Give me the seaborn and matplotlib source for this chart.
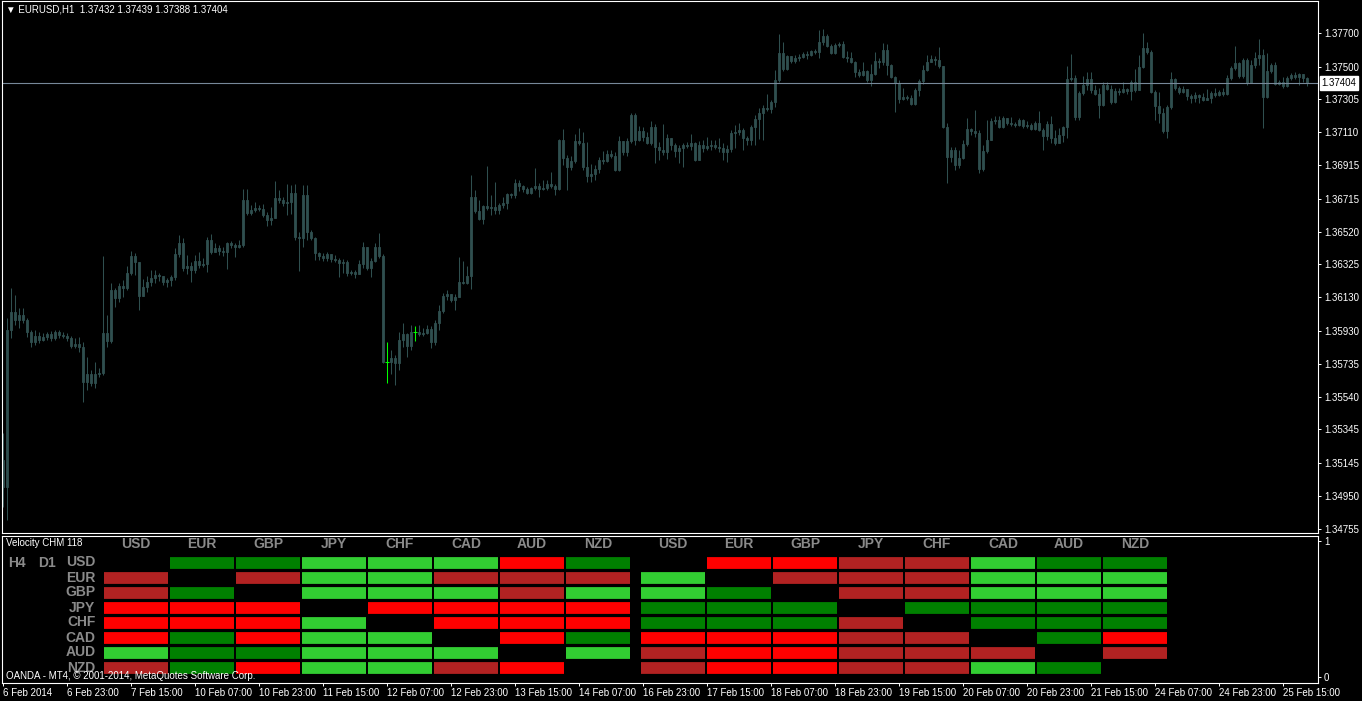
import numpy as np
import matplotlib
matplotlib.use("Agg")
import matplotlib.pyplot as plt
import seaborn as sns
from matplotlib.colors import ListedColormap

W, H = 1362, 701

# EURUSD H1 candles, prices in pips above BASE
BASE = 1.35000
first_open = 16.4
close_pips = [
    0.3, 93.6, 104.3, 99.5, 102.5, 99.5, 92.4, 86.4, 90.0, 87.6,
    89.4, 91.2, 88.8, 92.4, 90.6, 90.0, 88.8, 83.9, 85.2, 83.5,
    62.7, 67.4, 62.1, 67.4, 68.0, 91.8, 87.0, 117.3, 112.6, 119.7,
    118.5, 127.4, 137.5, 134.0, 113.8, 119.1, 122.1, 124.5, 126.2, 125.6,
    122.1, 123.3, 125.0, 138.7, 145.2, 130.4, 131.6, 129.2, 134.6, 132.2,
    132.8, 147.0, 139.9, 142.3, 140.5, 139.9, 145.2, 144.0, 142.9, 144.0,
    170.8, 163.1, 164.9, 166.1, 165.5, 161.9, 158.9, 160.1, 172.0, 170.8,
    169.0, 169.6, 174.9, 148.8, 148.2, 173.8, 151.8, 148.2, 139.3, 137.5,
    136.4, 138.7, 135.8, 135.2, 133.4, 134.0, 127.4, 128.0, 126.8, 132.8,
    142.9, 130.4, 134.6, 142.9, 137.5, 74.6, 74.6, 76.9, 74.0, 87.6,
    91.2, 83.9, 92.4, 92.4, 91.2, 91.8, 94.2, 86.4, 97.7, 104.9,
    113.8, 114.9, 111.4, 113.2, 122.1, 121.5, 125.6, 172.6, 164.3, 159.5,
    167.3, 166.1, 166.7, 164.9, 167.9, 169.0, 174.4, 173.8, 180.9, 179.1,
    177.3, 174.9, 177.9, 179.1, 177.3, 177.9, 180.3, 179.1, 177.3, 206.4,
    195.8, 190.4, 194.0, 206.0, 204.7, 190.4, 185.1, 186.3, 189.2, 194.6,
    194.0, 198.1, 196.9, 188.6, 205.8, 199.3, 205.8, 221.5, 206.4, 211.8,
    208.2, 204.7, 214.2, 202.3, 200.5, 199.3, 207.6, 203.5, 199.9, 201.7,
    203.5, 202.9, 204.7, 194.6, 203.5, 201.7, 202.9, 203.5, 202.3, 201.7,
    199.3, 201.1, 210.6, 211.2, 212.4, 207.6, 206.4, 214.2, 218.9, 222.5,
    225.5, 224.9, 229.0, 242.1, 258.1, 248.6, 256.3, 253.4, 255.1, 255.7,
    257.5, 256.9, 259.3, 258.7, 264.7, 268.2, 262.3, 258.1, 262.9, 263.5,
    255.7, 255.1, 252.8, 246.8, 245.1, 247.4, 242.1, 245.7, 253.4, 252.8,
    259.9, 251.0, 243.9, 240.3, 230.8, 232.0, 231.4, 227.8, 236.1, 241.5,
    248.0, 252.8, 254.5, 253.9, 250.4, 214.2, 196.3, 200.5, 191.6, 195.8,
    204.1, 213.0, 211.8, 210.6, 189.2, 199.9, 206.4, 217.7, 218.3, 214.2,
    219.5, 216.5, 215.9, 215.4, 218.3, 214.8, 215.4, 213.0, 216.5, 212.4,
    208.8, 215.9, 207.6, 204.7, 209.4, 214.2, 242.7, 243.3, 220.1, 234.4,
    239.1, 242.7, 236.1, 233.8, 227.2, 239.1, 236.7, 229.0, 235.5, 234.9,
    236.7, 235.5, 240.9, 236.1, 249.8, 261.1, 258.7, 234.9, 226.6, 222.5,
    211.8, 226.0, 242.7, 237.3, 234.9, 236.7, 232.6, 231.4, 233.2, 232.0,
    230.2, 231.4, 234.4, 233.2, 234.9, 233.8, 243.3, 249.2, 252.2, 244.5,
    253.9, 240.3, 251.0, 255.1, 256.9, 232.0, 247.4, 251.0, 239.7, 240.9,
    238.5, 243.3, 245.1, 243.9, 245.7, 243.2, 240.4,
]
high_pips = [
    32.4, 100.7, 118.5, 114.4, 106.7, 106.7, 100.7, 93.6, 93.6, 92.4,
    91.8, 92.4, 93.0, 93.6, 93.6, 92.4, 91.8, 90.0, 88.8, 89.4,
    86.4, 77.5, 69.8, 74.6, 71.0, 137.5, 102.5, 121.5, 118.5, 121.5,
    123.3, 131.6, 140.5, 139.3, 126.2, 123.9, 125.6, 129.2, 129.2, 127.4,
    125.6, 124.5, 126.2, 142.3, 150.0, 148.2, 138.1, 134.0, 138.1, 139.9,
    136.4, 148.8, 150.6, 145.2, 144.0, 142.9, 145.8, 146.4, 145.2, 147.0,
    177.3, 177.3, 167.9, 169.6, 167.9, 168.4, 163.7, 166.7, 182.1, 176.7,
    172.6, 180.3, 179.7, 180.3, 151.8, 179.7, 179.7, 153.0, 148.8, 139.9,
    139.3, 139.9, 137.5, 138.1, 136.4, 135.8, 135.2, 129.2, 129.2, 135.2,
    145.8, 142.9, 136.4, 145.2, 151.4, 138.7, 86.4, 81.7, 78.7, 92.4,
    97.7, 91.8, 96.5, 95.9, 96.5, 94.8, 96.5, 95.9, 99.5, 108.4,
    115.6, 117.3, 114.9, 114.9, 136.9, 134.6, 131.8, 185.7, 176.7, 170.8,
    167.9, 191.0, 173.8, 181.5, 169.0, 172.6, 175.0, 175.0, 183.3, 182.7,
    179.7, 178.5, 178.5, 189.8, 180.9, 182.7, 182.7, 187.4, 180.3, 207.0,
    213.0, 197.5, 196.9, 210.0, 213.6, 211.2, 205.2, 192.2, 191.6, 196.3,
    199.9, 200.5, 200.5, 199.3, 208.8, 202.9, 207.6, 222.7, 222.7, 214.8,
    214.2, 211.2, 217.7, 216.0, 205.2, 216.0, 210.0, 207.6, 204.7, 203.5,
    204.7, 205.2, 210.0, 205.2, 205.8, 206.4, 208.2, 206.4, 206.4, 207.6,
    204.7, 203.5, 212.4, 215.4, 216.5, 213.6, 208.8, 215.4, 221.3, 225.5,
    227.3, 233.8, 230.2, 248.0, 269.4, 264.7, 256.9, 256.3, 256.9, 257.5,
    258.7, 259.3, 259.9, 260.5, 271.8, 272.4, 269.4, 263.5, 264.1, 264.7,
    265.2, 259.3, 258.7, 253.4, 248.6, 252.8, 248.0, 251.6, 258.7, 255.1,
    264.1, 263.5, 251.6, 244.5, 242.1, 237.3, 233.2, 233.2, 237.3, 242.7,
    251.0, 256.9, 256.9, 256.3, 261.7, 250.4, 216.5, 202.3, 202.3, 200.5,
    206.4, 219.5, 213.6, 224.3, 212.4, 203.5, 218.3, 219.5, 220.7, 220.7,
    220.7, 219.5, 220.1, 217.1, 219.5, 218.9, 217.7, 216.5, 217.7, 223.7,
    213.6, 217.7, 220.7, 212.4, 213.6, 214.8, 250.4, 257.5, 245.1, 235.5,
    244.5, 246.8, 246.8, 239.1, 237.3, 240.9, 240.9, 239.1, 237.3, 237.3,
    240.9, 237.3, 242.1, 248.6, 256.9, 270.0, 264.7, 259.9, 236.1, 234.9,
    225.5, 227.3, 246.8, 243.3, 238.5, 238.5, 236.1, 233.8, 234.9, 233.8,
    234.4, 236.7, 235.5, 237.3, 236.1, 237.3, 245.1, 250.4, 262.3, 252.8,
    255.1, 255.1, 254.0, 258.7, 266.4, 260.5, 258.1, 252.2, 252.8, 242.1,
    243.9, 244.5, 246.2, 246.8, 246.2, 244.5, 243.9,
]
low_pips = [
    -11.6, -19.3, 88.8, 96.5, 94.8, 97.7, 89.4, 83.5, 84.7, 85.8,
    87.0, 87.6, 87.0, 87.6, 88.8, 88.8, 87.0, 82.9, 82.9, 80.5,
    50.8, 57.9, 60.3, 59.1, 65.7, 66.8, 83.5, 85.8, 107.2, 110.2,
    113.2, 117.3, 126.2, 126.2, 105.5, 116.1, 116.1, 119.7, 121.5, 122.7,
    120.3, 119.1, 119.7, 123.3, 136.9, 128.6, 126.8, 122.1, 127.4, 130.4,
    131.0, 128.0, 138.7, 139.9, 138.1, 137.5, 129.8, 142.3, 136.9, 142.3,
    142.9, 161.9, 161.9, 163.7, 164.3, 160.7, 155.4, 155.9, 160.7, 169.0,
    167.3, 161.9, 162.5, 147.0, 128.6, 142.9, 147.0, 147.0, 135.2, 135.2,
    134.6, 134.6, 134.0, 134.0, 125.0, 127.4, 125.6, 126.2, 124.5, 126.8,
    130.4, 129.2, 125.0, 134.0, 136.4, 74.0, 62.1, 67.6, 60.9, 69.8,
    83.5, 77.5, 81.7, 87.0, 90.0, 90.0, 91.2, 82.9, 84.7, 93.6,
    103.7, 111.4, 110.2, 105.5, 113.2, 120.9, 120.9, 117.9, 163.1, 158.9,
    156.5, 164.9, 161.9, 162.5, 162.5, 166.1, 165.5, 172.0, 172.0, 176.1,
    175.6, 174.4, 174.4, 176.7, 172.6, 176.7, 176.7, 177.9, 173.8, 176.7,
    191.6, 176.7, 188.6, 192.8, 203.5, 188.6, 181.5, 181.5, 182.7, 186.8,
    192.2, 193.4, 195.8, 188.0, 188.0, 197.5, 196.9, 204.7, 203.5, 206.0,
    206.0, 204.1, 203.5, 192.8, 194.6, 197.5, 195.2, 200.5, 196.3, 192.8,
    190.4, 201.7, 200.5, 194.0, 194.6, 199.3, 200.5, 200.5, 201.1, 199.3,
    194.6, 193.4, 199.3, 201.7, 209.4, 200.5, 203.5, 203.5, 203.5, 207.0,
    206.4, 223.7, 222.5, 226.0, 240.9, 247.4, 248.0, 252.2, 252.2, 253.4,
    255.1, 254.5, 256.3, 257.5, 255.1, 262.9, 261.7, 257.5, 257.5, 261.7,
    255.1, 252.8, 252.2, 243.9, 243.9, 244.5, 240.9, 238.5, 245.1, 249.2,
    251.0, 245.1, 243.3, 223.1, 228.4, 230.2, 230.2, 227.2, 227.2, 232.6,
    239.7, 247.4, 252.8, 251.0, 249.2, 213.6, 180.9, 193.4, 188.6, 189.8,
    195.2, 202.9, 209.4, 208.2, 186.8, 188.0, 198.7, 206.4, 216.0, 213.6,
    213.6, 215.4, 214.8, 214.2, 214.8, 213.6, 213.6, 212.4, 212.4, 211.8,
    200.5, 206.4, 204.7, 203.5, 204.7, 205.2, 207.6, 241.5, 218.3, 218.3,
    233.2, 236.1, 234.4, 233.2, 219.5, 226.6, 236.1, 227.8, 228.4, 233.2,
    234.4, 233.8, 230.2, 234.9, 236.1, 249.2, 257.5, 234.4, 218.3, 216.5,
    210.6, 207.6, 224.9, 236.1, 233.8, 234.4, 230.2, 228.4, 229.0, 228.4,
    229.6, 230.2, 228.4, 232.0, 232.6, 232.6, 233.2, 242.1, 248.0, 243.3,
    243.3, 239.1, 240.3, 249.2, 251.0, 213.6, 231.4, 246.2, 239.1, 239.1,
    237.3, 237.9, 242.1, 242.7, 239.1, 240.9, 238.8,
]

price_ticks = [1.37700, 1.37500, 1.37305, 1.37110, 1.36915, 1.36715, 1.36520,
               1.36325, 1.36130, 1.35930, 1.35735, 1.35540, 1.35345, 1.35145,
               1.34950, 1.34755]
date_labels = ["6 Feb 2014", "6 Feb 23:00", "7 Feb 15:00", "10 Feb 07:00",
               "10 Feb 23:00", "11 Feb 15:00", "12 Feb 07:00", "12 Feb 23:00",
               "13 Feb 15:00", "14 Feb 07:00", "16 Feb 23:00", "17 Feb 15:00",
               "18 Feb 07:00", "18 Feb 23:00", "19 Feb 15:00", "20 Feb 07:00",
               "20 Feb 23:00", "21 Feb 15:00", "24 Feb 07:00", "24 Feb 23:00",
               "25 Feb 15:00"]
HOURS_PER_LABEL = 16

# Velocity CHM matrices: 0 none, 1 strong down, 2 weak down, 3 weak up, 4 strong up
currencies = ["USD", "EUR", "GBP", "JPY", "CHF", "CAD", "AUD", "NZD"]
h4_matrix = [
    [0, 4, 4, 3, 3, 3, 1, 4],
    [2, 0, 2, 3, 3, 2, 2, 2],
    [2, 4, 0, 3, 3, 3, 2, 3],
    [1, 1, 1, 0, 1, 1, 1, 1],
    [1, 1, 1, 3, 0, 1, 1, 1],
    [1, 4, 1, 3, 3, 0, 1, 4],
    [3, 4, 4, 3, 3, 3, 0, 3],
    [2, 4, 1, 3, 3, 2, 1, 0],
]
d1_matrix = [
    [0, 1, 1, 2, 2, 3, 4, 4],
    [3, 0, 2, 2, 2, 3, 3, 3],
    [3, 4, 0, 2, 2, 3, 3, 3],
    [4, 4, 4, 0, 4, 4, 4, 4],
    [4, 4, 4, 2, 0, 4, 4, 4],
    [1, 1, 1, 2, 2, 0, 4, 1],
    [2, 1, 1, 2, 2, 2, 0, 2],
    [2, 1, 1, 2, 2, 3, 4, 0],
]
cell_colors = ["#ff0000", "#b22222", "#32cd32", "#008000"]

CANDLE = "#2f4f4f"
DOJI = "#00ff00"
GREY = "#8a8a8a"

sns.set_theme(style="dark", rc={
    "figure.facecolor": "black", "axes.facecolor": "black",
    "axes.edgecolor": "white", "text.color": "white",
    "xtick.color": "white", "ytick.color": "white", "axes.grid": False,
})
plt.rcParams["font.family"] = ["Liberation Sans", "DejaVu Sans"]

close = BASE + np.array(close_pips) / 10000
opens = np.concatenate([[BASE + first_open / 10000], close[:-1]])
high = np.maximum(BASE + np.array(high_pips) / 10000, np.maximum(opens, close))
low = np.minimum(BASE + np.array(low_pips) / 10000, np.minimum(opens, close))
n = len(close)
idx = np.arange(n)
doji = np.isclose(opens, close, atol=1e-9, rtol=0)
bid = close[-1]

fig = plt.figure(figsize=(W / 100, H / 100), dpi=100, facecolor="black")


def px_axes(x0, y0, x1, y1):
    return fig.add_axes([x0 / W, 1 - y1 / H, (x1 - x0) / W, (y1 - y0) / H])


def ftxt(x, y, s, **kw):
    kw.setdefault("fontsize", 7)
    kw.setdefault("color", "white")
    fig.text(x / W, 1 - y / H, s, ha="left", va="center", **kw)


XLIM = (-0.25, 328.75)

# price panel
ax = px_axes(2, 1, 1318, 533)
ax.set_facecolor("black")
norm = ~doji
ax.vlines(idx[norm], low[norm], high[norm], color=CANDLE, lw=0.75)
ax.bar(idx[norm], np.abs(close - opens)[norm], bottom=np.minimum(opens, close)[norm],
       width=0.6, color=CANDLE, edgecolor=CANDLE, linewidth=0.6)
ax.vlines(idx[doji], low[doji], high[doji], color=DOJI, lw=0.75)
ax.hlines(close[doji], idx[doji] - 0.45, idx[doji] + 0.45, color=DOJI, lw=0.75)
ax.axhline(bid, color="#778899", lw=0.8)
ax.set_xlim(*XLIM)
ax.set_ylim(1.34730, 1.37890)
ax.yaxis.tick_right()
ax.set_yticks(price_ticks)
ax.set_yticklabels([f"{p:.5f}" for p in price_ticks])
ax.tick_params(axis="y", right=True, left=False, length=2.2, width=0.7,
               colors="white", labelsize=7, pad=2)
ax.tick_params(axis="x", bottom=False, labelbottom=False)
for s in ax.spines.values():
    s.set_color("white")
    s.set_linewidth(0.8)
ax.annotate(f"{bid:.5f}", xy=(1, bid), xycoords=("axes fraction", "data"),
            xytext=(2.5, 0), textcoords="offset points", ha="left", va="center",
            fontsize=7, color="black", annotation_clip=False,
            bbox=dict(boxstyle="square,pad=0.2", fc="white", ec="white"))

ftxt(6, 10, f"\u25bc EURUSD,H1  {opens[-1]:.5f} {high[-1]:.5f} {low[-1]:.5f} {close[-1]:.5f}")

# indicator panel
axi = px_axes(2, 536, 1318, 683)
axi.set_facecolor("black")
axi.set_xlim(*XLIM)
axi.set_ylim(-0.044, 1.037)
axi.yaxis.tick_right()
axi.set_yticks([0, 1])
axi.set_yticklabels(["0", "1"])
axi.tick_params(axis="y", right=True, left=False, length=2.2, width=0.7,
                colors="white", labelsize=7, pad=2)
axi.set_xticks(np.arange(len(date_labels)) * HOURS_PER_LABEL)
axi.set_xticklabels(date_labels, ha="left")
axi.tick_params(axis="x", bottom=True, length=2.5, width=0.7, colors="white",
                labelsize=7, pad=1)
for s in axi.spines.values():
    s.set_color("white")
    s.set_linewidth(0.8)

cmap = ListedColormap(cell_colors)
for x0, mat, rows in [(103, h4_matrix, True), (640, d1_matrix, False)]:
    hx = px_axes(x0, 555, x0 + 528, 675)
    hx.set_facecolor("black")
    m = np.array(mat, dtype=float)
    sns.heatmap(m, mask=(m == 0), cmap=cmap, vmin=0.5, vmax=4.5, cbar=False,
                linewidths=1.4, linecolor="black", ax=hx,
                xticklabels=currencies, yticklabels=currencies if rows else False)
    hx.hlines(np.arange(len(currencies) + 1), 0, len(currencies), colors="black", lw=2.3)
    hx.xaxis.tick_top()
    hx.tick_params(axis="x", length=0, pad=3, labelsize=10, labelcolor=GREY, rotation=0)
    hx.tick_params(axis="y", length=0, pad=5.5, labelsize=10, labelcolor=GREY, rotation=0)
    for lab in hx.get_xticklabels() + hx.get_yticklabels():
        lab.set_fontweight("bold")
    for s in hx.spines.values():
        s.set_visible(False)

ftxt(6, 543, "Velocity CHM 118")
ftxt(8, 563, "H4", fontsize=10, color=GREY, fontweight="bold")
ftxt(38, 563, "D1", fontsize=10, color=GREY, fontweight="bold")
ftxt(6, 676, "OANDA - MT4, \u00a9 2001-2014, MetaQuotes Software Corp.")

fig.savefig("out.png", dpi=100, facecolor="black")
